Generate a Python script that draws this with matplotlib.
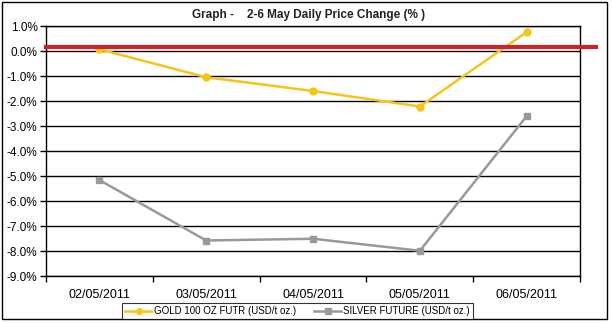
import matplotlib.pyplot as plt
from matplotlib.lines import Line2D
from matplotlib.patches import Rectangle
from matplotlib.ticker import FuncFormatter, MultipleLocator

# Daily price change, 2-6 May 2011 (%)
dates = ['02/05/2011', '03/05/2011', '04/05/2011', '05/05/2011', '06/05/2011']
gold = [0.07, -1.05, -1.60, -2.22, 0.76]
silver = [-5.16, -7.58, -7.51, -7.99, -2.60]
ref_level = 0.16

plt.rcParams['font.family'] = ['Liberation Sans', 'DejaVu Sans']

fig = plt.figure(figsize=(6.12, 3.23), dpi=100, facecolor='white')
ax = fig.add_axes([0.075, 0.1455, 0.873, 0.774])

x = list(range(len(dates)))
ax.plot(x, gold, color='#F5C518', lw=1.8, marker='o', ms=5,
        label='GOLD 100 OZ FUTR (USD/t oz.)')
ax.plot(x, silver, color='#999999', lw=1.8, marker='s', ms=5,
        label='SILVER FUTURE (USD/t oz.)')

# red reference line runs a little past the plot edge
ax.add_line(Line2D([-0.5, 4.65], [ref_level, ref_level], color='#CC2229',
                   lw=3, clip_on=False, zorder=4))

ax.set_xlim(-0.5, 4.5)
ax.set_ylim(-9, 1)
ax.yaxis.set_major_locator(MultipleLocator(1))
ax.yaxis.set_major_formatter(FuncFormatter(lambda v, p: f'{v:.1f}%'))
ax.grid(axis='y', color='black', lw=1)
ax.set_axisbelow(True)

ax.set_xticks(x)
ax.set_xticklabels(dates)
ax.set_xticks([i + 0.5 for i in range(-1, len(dates))], minor=True)
ax.tick_params(axis='x', which='major', length=0, pad=9, labelsize=9)
ax.tick_params(axis='x', which='minor', length=4, width=1, direction='out')
ax.tick_params(axis='y', length=4, width=1, labelsize=8.5, pad=2)
for s in ax.spines.values():
    s.set_color('black')
    s.set_linewidth(1)

fig.text(0.505, 0.955, 'Graph -    2-6 May Daily Price Change (% )',
         ha='center', va='center', fontsize=8.5, fontweight='bold',
         color='#222222')

leg = fig.legend(loc='center', bbox_to_anchor=(0.486, 0.036), ncol=2,
                 fontsize=7, frameon=True, fancybox=False,
                 edgecolor='black', handlelength=2.8, columnspacing=1.8,
                 borderpad=0.3, handletextpad=0.2, markerscale=0.8)
leg.get_frame().set_linewidth(0.8)

# outer border around the figure
fig.add_artist(Rectangle((0.004, 0.012), 0.988, 0.982, transform=fig.transFigure,
                         fill=False, edgecolor='black', lw=1))

plt.savefig('out.png', dpi=100, facecolor='white')
